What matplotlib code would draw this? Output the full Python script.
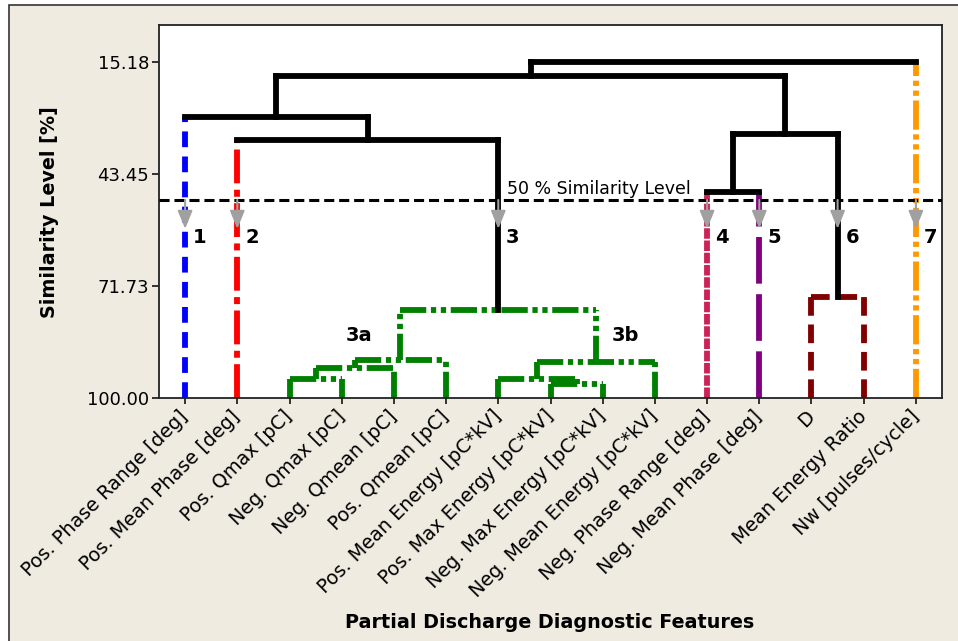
import numpy as np
import matplotlib.pyplot as plt
from matplotlib.patches import Rectangle

# leaves (left to right)
features = ['Pos. Phase Range [deg]', 'Pos. Mean Phase [deg]', 'Pos. Qmax [pC]',
            'Neg. Qmax [pC]', 'Neg. Qmean [pC]', 'Pos. Qmean [pC]',
            'Pos. Mean Energy [pC*kV]', 'Pos. Max Energy [pC*kV]',
            'Neg. Max Energy [pC*kV]', 'Neg. Mean Energy [pC*kV]',
            'Neg. Phase Range [deg]', 'Neg. Mean Phase [deg]', 'D',
            'Mean Energy Ratio', 'Nw [pulses/cycle]']
leaf_cluster = [1, 2, 3, 3, 3, 3, 3, 3, 3, 3, 4, 5, 6, 6, 7]

# linkage: node ids 0..14 are leaves, merge k creates node 15+k
merge_left = [7, 6, 16, 2, 18, 19, 20, 1, 0, 10, 12, 24, 23, 27]
merge_right = [8, 15, 9, 3, 4, 5, 17, 21, 22, 11, 13, 25, 26, 14]
merge_height = [96.4, 95.3, 90.8, 95.2, 92.5, 90.4, 77.7, 34.9, 29.0,
                 48.0, 74.6, 33.3, 18.7, 15.18]

yticks = [15.18, 43.45, 71.73, 100.00]
cut_level = 50.0

cluster_color = {1: '#0000ff', 2: '#ff0000', 3: '#008000', 4: '#cc2255',
                 5: '#800080', 6: '#800000', 7: '#ff9900'}
cluster_dash = {1: (0, (2.7, 1.6)),
                2: (0, (5.8, 1.1, 1.2, 1.1)),
                3: (0, (4.5, 0.8, 0.9, 0.8, 0.9, 0.8)),
                4: (0, (1.8, 0.3)),
                5: (0, (8, 1.8)),
                6: (0, (3.2, 1.5)),
                7: (0, (5, 0.8, 0.9, 0.8, 0.9, 0.8))}

n = len(features)
LW = 4.2

fig = plt.figure(figsize=(9.58, 6.41), dpi=100)
fig.patch.set_facecolor('white')
fig.patches.append(Rectangle((9 / 958, -0.1), 1.0, 1 - 5 / 641 + 0.1,
                             transform=fig.transFigure, facecolor='#efebe1',
                             edgecolor='#333333', lw=1.2, zorder=-10))
ax = fig.add_axes([159 / 958, 1 - 398 / 641, (942 - 159) / 958, (398 - 25) / 641])

# node positions / heights / leaves
xpos = {i: i + 1.0 for i in range(n)}
hgt = {i: 100.0 for i in range(n)}
leaves = {i: [i] for i in range(n)}
for k, (a, b, h) in enumerate(zip(merge_left, merge_right, merge_height)):
    node = n + k
    xpos[node] = (xpos[a] + xpos[b]) / 2
    hgt[node] = h
    leaves[node] = leaves[a] + leaves[b]


def node_cluster(node):
    cl = {leaf_cluster[i] for i in leaves[node]}
    return cl.pop() if len(cl) == 1 else None


def seg(xs, ys, cl):
    if cl is None:
        ax.plot(xs, ys, color='black', lw=LW, solid_capstyle='projecting',
                zorder=2)
    else:
        ax.plot(xs, ys, color=cluster_color[cl], lw=LW, ls=cluster_dash[cl],
                dash_capstyle='butt', zorder=2)


for k, (a, b, h) in enumerate(zip(merge_left, merge_right, merge_height)):
    node = n + k
    ncl = node_cluster(node)
    for c in (a, b):
        ccl = leaf_cluster[c] if c < n else ncl
        seg([xpos[c], xpos[c]], [hgt[c], h], ccl)
    seg([xpos[a], xpos[b]], [h, h], ncl)

# 50 % similarity cut
ax.axhline(cut_level, color='black', lw=2.2, ls=(0, (3.3, 1.6)), zorder=4)
ax.text(7.17, 48.4, '50 % Similarity Level', fontsize=12.5, ha='left',
        va='baseline', zorder=5)

# cluster arrows and numbers
cluster_x = [1, 2, xpos[21], 11, 12, xpos[25], 15]
for i, cx in enumerate(cluster_x):
    ax.annotate('', xy=(cx, 57.3), xytext=(cx, cut_level),
                arrowprops=dict(arrowstyle='-|>,head_length=1.1,head_width=0.45',
                                color='#a0a0a0', lw=1.5, shrinkA=0, shrinkB=0,
                                mutation_scale=10), zorder=6)
    ax.text(cx + 0.15, 59.6, str(i + 1), fontsize=14, fontweight='bold',
            ha='left', va='center', zorder=6)
ax.text(4.34, 84.3, '3a', fontsize=14, fontweight='bold', ha='center', va='center')
ax.text(9.43, 84.3, '3b', fontsize=14, fontweight='bold', ha='center', va='center')

ax.set_xlim(0.5, 15.5)
ax.set_ylim(100, 15.18 - 37 / 3.963)
ax.set_yticks(yticks)
ax.set_yticklabels([f'{v:.2f}' for v in yticks], fontsize=13)
ax.set_xticks(np.arange(1, n + 1))
ax.set_xticklabels(features, fontsize=13.8, rotation=45, ha='right', va='center',
                   rotation_mode='anchor')
ax.tick_params(axis='y', length=5, width=1.1, pad=2)
ax.tick_params(axis='x', length=4, width=1.1, pad=7)
for s in ax.spines.values():
    s.set_linewidth(1.3)
    s.set_color('#222222')

fig.text(50 / 958, 1 - 212 / 641, 'Similarity Level [%]', rotation=90,
         fontsize=13.8, fontweight='bold', ha='center', va='center')
fig.text(550 / 958, 1 - 622 / 641, 'Partial Discharge Diagnostic Features',
         fontsize=13.8, fontweight='bold', ha='center', va='center')

fig.savefig('out.png', dpi=100, facecolor=fig.get_facecolor())
